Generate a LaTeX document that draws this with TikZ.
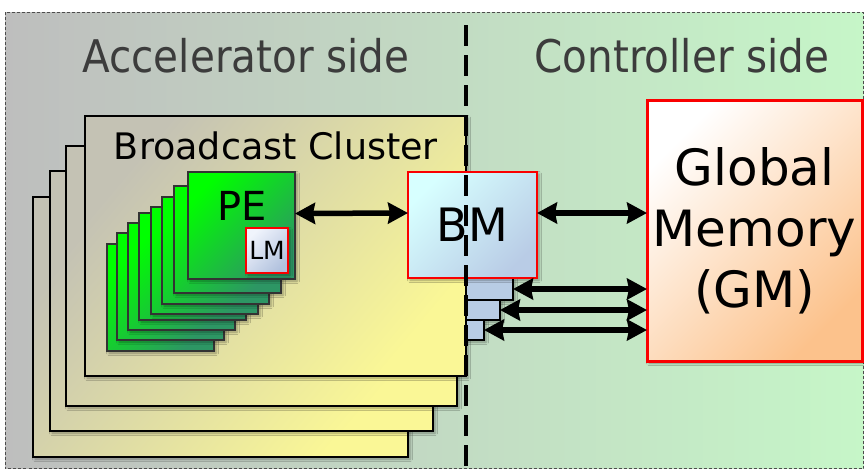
\documentclass[tikz,border=0pt]{standalone}
\usepackage{fontspec}
\setmainfont{DejaVu Sans}
\newfontfamily\condfont[FakeStretch=0.9]{DejaVu Sans}
\usetikzlibrary{arrows.meta,shadows.blur,calc}

\definecolor{bgL}{RGB}{190,190,190}
\definecolor{bgR}{RGB}{198,246,200}
\definecolor{clA}{RGB}{196,194,180}
\definecolor{clB}{RGB}{250,247,150}
\definecolor{peA}{RGB}{0,255,0}
\definecolor{peB}{RGB}{45,150,100}
\definecolor{lmA}{RGB}{240,244,252}
\definecolor{lmB}{RGB}{178,194,222}
\definecolor{bmA}{RGB}{215,255,255}
\definecolor{bmB}{RGB}{185,204,230}
\definecolor{smF}{RGB}{184,204,228}
\definecolor{gmA}{RGB}{255,255,255}
\definecolor{gmB}{RGB}{252,194,140}
\definecolor{titlegray}{RGB}{60,60,60}
\definecolor{memred}{RGB}{250,0,0}

\tikzset{
  box/.style={inner sep=0pt, outer sep=0pt, anchor=north west,
    blur shadow={shadow xshift=2pt, shadow yshift=-2pt,
      shadow blur radius=2.5pt, shadow opacity=35}},
  cluster/.style={box, draw=black, line width=2.8pt,
    top color=clA, bottom color=clB, shading angle=50,
    minimum height=260pt},
  pebox/.style={box, draw=black!80, line width=1.2pt,
    top color=peA, bottom color=peB, shading angle=45,
    minimum width=107pt, minimum height=107pt},
  membox/.style={box, draw=memred, top color=#1A, bottom color=#1B,
    shading angle=45},
  stairbox/.style={box, draw=black, line width=2pt, fill=smF},
  bitip/.tip={Stealth[length=20pt,width=21pt,inset=2pt]},
  biarrow/.style={line width=5.5pt, bitip-bitip},
  sidetitle/.style={font=\condfont\fontsize{45}{50}\selectfont,
    text=titlegray, anchor=base, inner sep=0pt},
  divider/.style={line width=3.5pt, dash pattern=on 21pt off 9pt},
}

\begin{document}
\begin{tikzpicture}[x=1pt,y=-1pt]
\useasboundingbox (0,0) rectangle (864,469);
\fill[white] (0,0) rectangle (864,469);

% background of the two halves
\shade[left color=bgL, right color=bgR] (5,12) rectangle (863.5,468.5);
\draw[black!70, line width=0.8pt, dash pattern=on 3pt off 2pt]
  (5,12) rectangle (863.5,468.5);

% headings
\node[sidetitle] (acc) at (246,72) {Accelerator side};
\node[sidetitle] (ctl) at (682,72) {Controller side};

% stacked broadcast clusters, back to front
\node[cluster, minimum width=375pt] (c4) at (33,197) {};
\node[cluster, minimum width=383pt] (c3) at (50,171) {};
\node[cluster, minimum width=391pt] (c2) at (66,146) {};
\node[cluster, minimum width=381pt] (c1) at (85,116) {};
\node[anchor=base, inner sep=0pt, font=\fontsize{36.5}{40}\selectfont]
  (bclabel) at (276,159) {Broadcast Cluster};

% processing elements, back to front
\node[pebox] (p8) at (107,244) {};
\node[pebox] (p7) at (117,233) {};
\node[pebox] (p6) at (128,223) {};
\node[pebox] (p5) at (139,213) {};
\node[pebox] (p4) at (151,207) {};
\node[pebox] (p3) at (162,197) {};
\node[pebox] (p2) at (174,186) {};
\node[pebox] (p1) at (188,172) {};
\node[anchor=base, inner sep=0pt, font=\fontsize{40}{42}\selectfont]
  (pelabel) at (242,220) {PE};

% local memory
\node[membox=lm, line width=2.2pt, minimum width=42pt, minimum height=45pt,
  font=\fontsize{25}{26}\selectfont] (lm) at (246,228) {LM};

% broadcast memory and the banks behind it
\node[stairbox, minimum width=47pt, minimum height=22pt] (s1) at (466,278) {};
\node[stairbox, minimum width=34pt, minimum height=20pt] (s2) at (466,300) {};
\node[stairbox, minimum width=18pt, minimum height=20pt] (s3) at (466,320) {};
\node[membox=bm, line width=2pt, minimum width=129pt, minimum height=106pt,
  font=\fontsize{46}{48}\selectfont] (bm) at (408,172) {BM};

% global memory
\node[membox=gm, line width=3pt, minimum width=215pt, minimum height=261pt,
  align=center, font=\fontsize{50}{61}\selectfont] (gm) at (647,100)
  {Global\\Memory\\(GM)};

% connections
\draw[biarrow] ([yshift=12pt]p1.east) -- ([yshift=12pt]bm.west);
\draw[biarrow] ([yshift=12pt]bm.east) -- ([yshift=12pt]bm.east -| gm.west);
\draw[biarrow] (s1.east) -- (s1.east -| gm.west);
\draw[biarrow] (s2.east) -- (s2.east -| gm.west);
\draw[biarrow] (s3.east) -- (s3.east -| gm.west);

% boundary between the two sides
\coordinate (divtop) at (466,25);
\coordinate (divbot) at (466,469);
\draw[divider] (divtop) -- (divbot);
\end{tikzpicture}
\end{document}
